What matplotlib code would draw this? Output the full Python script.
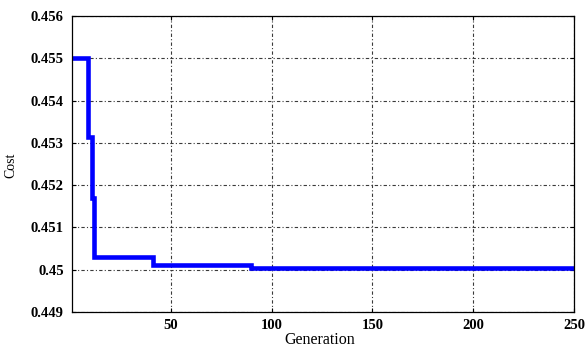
import matplotlib.pyplot as plt
import numpy as np

# best cost per generation, at the generations where it improves
generation = [1, 9, 11, 12, 41, 90, 173, 250]
cost = [0.455, 0.45315, 0.45169, 0.45031, 0.4501, 0.45005, 0.45003, 0.45003]

x_ticks = [50, 100, 150, 200, 250]
y_ticks = [0.449, 0.45, 0.451, 0.452, 0.453, 0.454, 0.455, 0.456]
y_labels = ['0.449', '0.45', '0.451', '0.452', '0.453', '0.454', '0.455', '0.456']

W, H = 587, 346
fig = plt.figure(figsize=(W/100, H/100), dpi=100)
ax = fig.add_axes([72/W, 1-312/H, (574-72)/W, (312-16)/H])

ax.plot(generation, cost, color='#0000ff', lw=3.3, drawstyle='steps-post',
        solid_joinstyle='miter')

ax.set_xlim(1, 250)
ax.set_ylim(0.449, 0.456)
ax.set_xticks(x_ticks)
ax.set_yticks(y_ticks)
ax.set_yticklabels(y_labels)

for lab in ax.get_xticklabels() + ax.get_yticklabels():
    lab.set_fontfamily('Liberation Serif')
    lab.set_fontweight('bold')
    lab.set_fontsize(10.5)

ax.tick_params(direction='in', length=3, width=0.8, colors='black', pad=5)
ax.tick_params(axis='y', pad=6)
ax.tick_params(axis='both', top=True, right=True)

ax.grid(True, color='#3a3a3a', lw=0.8, linestyle=(0, (3, 2, 1, 2)))
for s in ax.spines.values():
    s.set_linewidth(0.9)

ax.set_xlabel('Generation', family='Liberation Serif', fontsize=11.5)
ax.xaxis.set_label_coords(0.494, -0.066)
ax.set_ylabel('Cost', family='Liberation Serif', fontsize=10)
ax.yaxis.set_label_coords(-0.1215, 0.497)
ax.yaxis.label.set_va('center')

fig.savefig('out.png', dpi=100)
